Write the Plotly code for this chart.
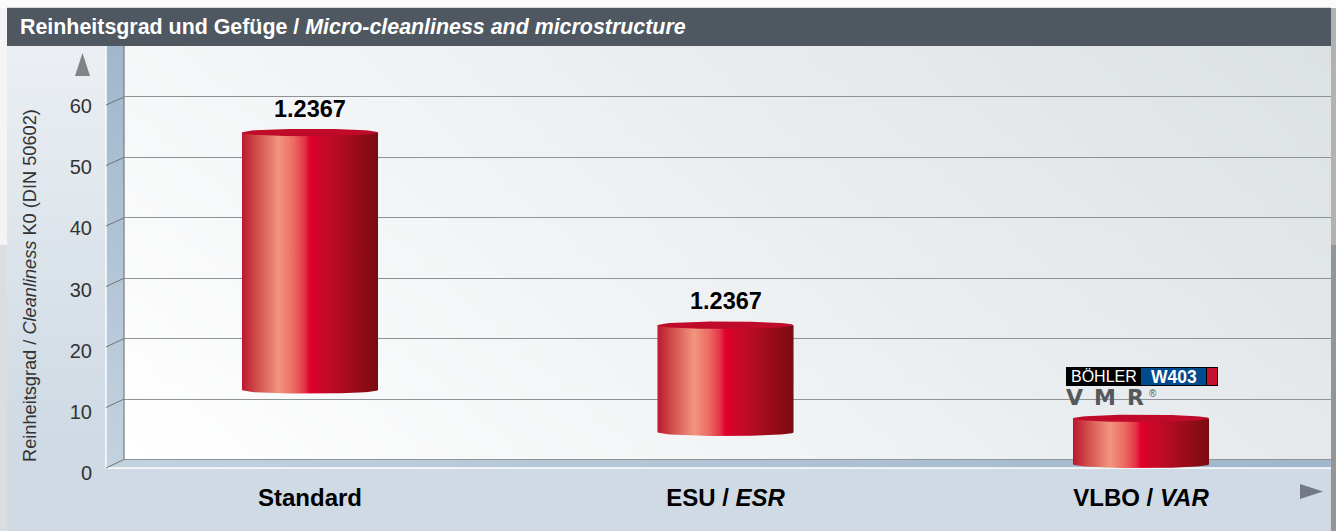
import numpy as np
import plotly.graph_objects as go

# ---- data -------------------------------------------------------------
categories = ["Standard", "ESU / <i>ESR</i>", "VLBO / <i>VAR</i>"]
range_low = [12.9, 5.9, 0.6]
range_high = [55.45, 23.6, 8.2]
bar_labels = ["1.2367", "1.2367", None]
y_ticks = [0, 10, 20, 30, 40, 50, 60]

title_text = "<b>Reinheitsgrad und Gefüge / <i>Micro-cleanliness and microstructure</i></b>"
y_title = "Reinheitsgrad / <i>Cleanliness</i> K0 (DIN 50602)"

FONT = "Liberation Sans"
W, H = 1336, 531

# ---- page geometry (pixels) --------------------------------------------
PX_FRONT_0, PX_FRONT_60 = 468, 105
PX_BACK_0, PX_BACK_60 = 459.5, 97
PX_LAB_0, PX_LAB_60 = 473, 106
LEFT, RIGHT, TOP = 7, 1331, 8
HEAD_B = 46
SIDE_L, SIDE_R = 106, 124
BAND_HALF = 0.1637   # half cylinder width in category units
RY_UNITS = 3.7 / ((PX_FRONT_0 - PX_FRONT_60) / 60)


def fy(p):
    return 1 - p / H


def fx(p):
    return p / W


fig = go.Figure()


def poly(xs, ys, color=None, grad=None, gtype="horizontal", xa="x", ya="y"):
    kw = dict(x=list(xs) + [xs[0]], y=list(ys) + [ys[0]], mode="lines", fill="toself",
              line=dict(width=0), hoverinfo="skip", showlegend=False, xaxis=xa, yaxis=ya)
    if grad:
        kw["fillgradient"] = dict(type=gtype, colorscale=grad)
        kw["fillcolor"] = "rgba(0,0,0,0)"
    else:
        kw["fillcolor"] = color
    fig.add_trace(go.Scatter(**kw))


def line(xs, ys, color, width, xa="x", ya="y"):
    fig.add_trace(go.Scatter(x=xs, y=ys, mode="lines", line=dict(color=color, width=width),
                             hoverinfo="skip", showlegend=False, xaxis=xa, yaxis=ya))


# ---- page surroundings ---------------------------------------------------
poly([0, LEFT, LEFT, 0], [0, 0, 245, 245], "#f4f4f4")
poly([0, LEFT, LEFT, 0], [245, 245, H, H], "#dbdee1")
poly([0, W, W, 0], [0, 0, TOP, TOP], "#fbfbfb")
poly([LEFT, RIGHT, RIGHT, LEFT], [TOP - 1, TOP - 1, TOP, TOP], "#d5dade")
poly([RIGHT, W, W, RIGHT], [TOP, TOP, 245, 245], "#b2b2b2")
poly([RIGHT, W, W, RIGHT], [245, 245, H, H], "#929698")

# ---- back wall, diagonal light ------------------------------------------
gx = np.linspace(SIDE_R, RIGHT, 121)
gy = np.linspace(HEAD_B, PX_BACK_0, 61)
cx = (gx[:-1] + gx[1:]) / 2
cy = (gy[:-1] + gy[1:]) / 2
zz = ((cx - SIDE_R) / (RIGHT - SIDE_R))[None, :] * 0.72 + ((PX_BACK_0 - cy) / (PX_BACK_0 - HEAD_B))[:, None] * 0.28
fig.add_trace(go.Heatmap(x=gx, y=gy, z=zz, zmin=0, zmax=1, showscale=False, hoverinfo="skip",
                         colorscale=[[0, "#ffffff"], [1, "#dce1e4"]], xaxis="x", yaxis="y"))

# ---- panels ---------------------------------------------------------------
poly([LEFT, SIDE_L, SIDE_L, LEFT], [HEAD_B, HEAD_B, H, H],
     grad=[[0, "#cfdae4"], [0.2, "#cfdae4"], [1, "#ebeff3"]], gtype="vertical")
poly([SIDE_L, RIGHT, RIGHT, SIDE_L], [PX_FRONT_0, PX_FRONT_0, H, H], "#cfdae4")
poly([SIDE_L, SIDE_R, SIDE_R, SIDE_L], [HEAD_B, HEAD_B, PX_BACK_0, PX_FRONT_0],
     grad=[[0, "#c3d2df"], [1, "#a0b7cc"]], gtype="vertical")
poly([SIDE_L, SIDE_R, RIGHT, RIGHT], [PX_FRONT_0, PX_BACK_0, PX_BACK_0, PX_FRONT_0],
     grad=[[0, "#c3d2df"], [1, "#9fb6cb"]], gtype="horizontal")
poly([LEFT, RIGHT, RIGHT, LEFT], [TOP, TOP, HEAD_B, HEAD_B], "#4f5860")

# ---- wall edges and slanted ticks -------------------------------------------
line([SIDE_R, SIDE_R, RIGHT], [HEAD_B, PX_BACK_0, PX_BACK_0], "#767c80", 1.2)
line([SIDE_L, SIDE_L, RIGHT], [HEAD_B, PX_FRONT_0, PX_FRONT_0], "#ffffff", 1.4)
sx, sy = [], []
for t in y_ticks:
    sx += [SIDE_L, SIDE_R, None]
    sy += [PX_FRONT_0 - (PX_FRONT_0 - PX_FRONT_60) * t / 60,
           PX_BACK_0 - (PX_BACK_0 - PX_BACK_60) * t / 60, None]
line(sx, sy, "#6d7478", 1)

# ---- back-wall grid subplot --------------------------------------------------
fig.add_trace(go.Scatter(x=[0], y=[0], mode="markers", marker=dict(opacity=0), hoverinfo="skip",
                         showlegend=False, xaxis="x2", yaxis="y2"))

# ---- cylinders -----------------------------------------------------------------
body_scale = [[0, "#bd1730"], [0.1, "#cf4a48"], [0.27, "#f2957f"], [0.38, "#ec6a62"],
              [0.46, "#e53448"], [0.5, "#e0002a"], [0.62, "#c40a28"], [0.8, "#a00c1c"], [1, "#7a0b10"]]
theta = np.linspace(0, np.pi, 41)
for i, (lo, hi) in enumerate(zip(range_low, range_high)):
    xb = i + BAND_HALF * np.cos(theta)
    yb = lo - RY_UNITS * np.sin(theta)
    xs = [i - BAND_HALF, i + BAND_HALF] + list(xb)
    ys = [hi, hi] + list(yb)
    poly(xs, ys, grad=body_scale, xa="x3", ya="y3")
    t2 = np.linspace(0, 2 * np.pi, 81)
    poly(i + BAND_HALF * np.cos(t2), hi + RY_UNITS * np.sin(t2), "#c00a2a", xa="x3", ya="y3")

# ---- tick-label subplot -----------------------------------------------------------
fig.add_trace(go.Scatter(x=[0], y=[0], mode="markers", marker=dict(opacity=0), hoverinfo="skip",
                         showlegend=False, xaxis="x4", yaxis="y4"))

hidden = dict(visible=False, fixedrange=True, automargin=False)
annotations = [
    dict(text=title_text, x=17.5, y=27, xref="x", yref="y", xanchor="left", yanchor="middle",
         showarrow=False, font=dict(family=FONT, size=21.4, color="#ffffff")),
    dict(text=y_title, x=30, y=286, xref="x", yref="y", textangle=-90, showarrow=False,
         font=dict(family=FONT, size=18.2, color="#333333")),
    dict(text="BÖHLER", x=1103.5, y=376.5, xref="x", yref="y", showarrow=False,
         font=dict(family=FONT, size=16, color="#ffffff")),
    dict(text="<b>W403</b>", x=1173.5, y=376.5, xref="x", yref="y", showarrow=False,
         font=dict(family=FONT, size=17.5, color="#ffffff")),
    dict(text="<b>V\u2002M\u2002R</b>", x=1064, y=397, xref="x", yref="y", xanchor="left", showarrow=False,
         font=dict(family="DejaVu Sans", size=22, color="#55595c")),
    dict(text="®", x=1153, y=393, xref="x", yref="y", showarrow=False,
         font=dict(family=FONT, size=10, color="#55595c")),
]
for i, lab in enumerate(bar_labels):
    if lab:
        annotations.append(dict(text=f"<b>{lab}</b>", x=i, y=range_high[i], xref="x3", yref="y3",
                                yanchor="bottom", yshift=9, showarrow=False,
                                font=dict(family=FONT, size=23.5, color="#000000")))

shapes = [
    dict(type="path", path="M75,76 L90,76 L82.5,53 Z", xref="x", yref="y", fillcolor="#7f8487", line_width=0),
    dict(type="path", path="M1300,484 L1323,491.5 L1300,499 Z", xref="x", yref="y", fillcolor="#737a85", line_width=0),
    dict(type="rect", x0=1066, x1=1218, y0=367, y1=386, xref="x", yref="y", fillcolor="#000000", line_width=0),
    dict(type="rect", x0=1141, x1=1206, y0=368, y1=385, xref="x", yref="y", fillcolor="#004b8d", line_width=0),
    dict(type="rect", x0=1207, x1=1217, y0=368, y1=385, xref="x", yref="y", fillcolor="#c8102e", line_width=0),
]

# back-wall axis runs one unit past both ends so the 0 and 60 grid lines are kept
back_unit = (PX_BACK_0 - PX_BACK_60) / 60

fig.update_layout(
    width=W, height=H, autosize=False,
    margin=dict(l=0, r=0, t=0, b=0, pad=0, autoexpand=False),
    paper_bgcolor="#ffffff", plot_bgcolor="rgba(0,0,0,0)", showlegend=False,
    font=dict(family=FONT),
    annotations=annotations, shapes=shapes,
    xaxis=dict(domain=[0, 1], range=[0, W], **hidden),
    yaxis=dict(domain=[0, 1], range=[H, 0], **hidden),
    xaxis2=dict(domain=[fx(SIDE_R), fx(RIGHT)], range=[0, 1], anchor="y2", **hidden),
    yaxis2=dict(domain=[fy(PX_BACK_0 + back_unit), fy(PX_BACK_60 - back_unit)], range=[-1, 61], anchor="x2",
                fixedrange=True, automargin=False,
                tickvals=y_ticks, showticklabels=False, ticks="", showgrid=True, gridcolor="#8e9396",
                gridwidth=1, zeroline=False, showline=False),
    xaxis3=dict(domain=[fx(109), fx(RIGHT)], range=[(109 - 310) / 415.5, (RIGHT - 310) / 415.5], anchor="y3",
                fixedrange=True, automargin=False, tickvals=[0, 1, 2], ticktext=[f"<b>{c}</b>" for c in categories],
                ticks="outside", ticklen=8, tickcolor="rgba(0,0,0,0)", showgrid=False, zeroline=False,
                showline=False, tickfont=dict(family=FONT, size=24, color="#000000")),
    yaxis3=dict(domain=[fy(PX_FRONT_0), fy(PX_FRONT_60)], range=[0, 60], anchor="x3", **hidden),
    xaxis4=dict(domain=[fx(93), fx(100)], range=[0, 1], anchor="y4", **hidden),
    yaxis4=dict(domain=[fy(PX_LAB_0), fy(PX_LAB_60)], range=[0, 60], anchor="x4", fixedrange=True, automargin=False,
                tickvals=y_ticks, showgrid=False, zeroline=False, showline=False, ticks="",
                tickfont=dict(family=FONT, size=20, color="#333333")),
)

fig.write_html("out.html", config={"displayModeBar": False},
               post_script="document.body.style.margin='0';document.documentElement.style.overflow='hidden';")
